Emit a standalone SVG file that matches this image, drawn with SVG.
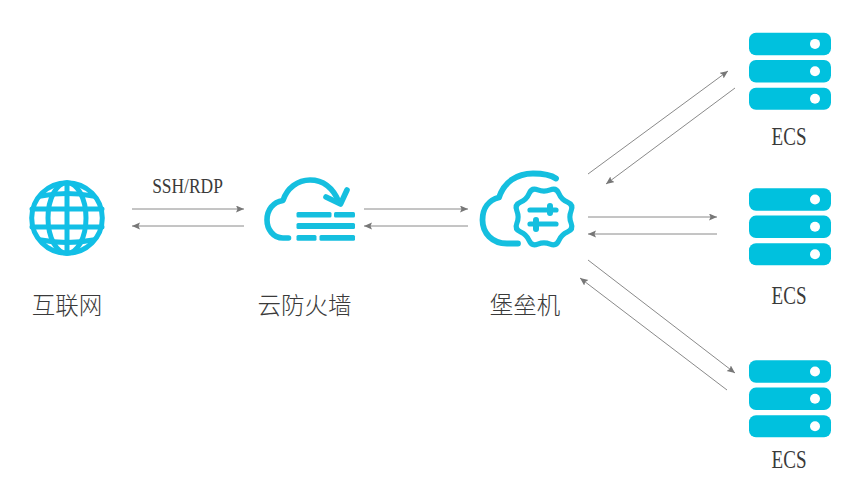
<svg xmlns="http://www.w3.org/2000/svg" width="854" height="480" viewBox="0 0 854 480">
<style>
.ic{fill:none;stroke:#15bfdf;stroke-linecap:round;stroke-linejoin:round}
.b{fill:#15bfdf}
.srv{fill:#00c1de}
.dot{fill:#fff}
.cn{font-family:"Noto Sans CJK SC","Noto Sans CJK JP",sans-serif;font-size:23.5px;font-weight:300;fill:#3a3a3a;text-anchor:middle}
.en{font-family:"Liberation Serif",serif;fill:#3a3a3a;text-anchor:middle}
.ecs{font-size:25px}
.ln{stroke:#8a8a8a;stroke-width:1;fill:none;marker-end:url(#a)}
</style>
<defs>
<marker id="a" markerUnits="userSpaceOnUse" markerWidth="9" markerHeight="8" refX="8" refY="3.5" orient="auto"><path d="M0 0L8 3.5L0 7L1.5 3.5Z" fill="#777"/></marker>
<g id="server">
<rect class="srv" x="0" y="0" width="82" height="22.500" rx="7"/>
<rect class="srv" x="0" y="27.300" width="82" height="22.500" rx="7"/>
<rect class="srv" x="0" y="55" width="82" height="22" rx="7"/>
<circle class="dot" cx="66" cy="11.200" r="5"/>
<circle class="dot" cx="66" cy="38.500" r="5"/>
<circle class="dot" cx="66" cy="66" r="5"/>
</g>
</defs>
<g id="connectors">
<path class="ln" d="M132 209H244"/>
<path class="ln" d="M244 226H132"/>
<path class="ln" d="M364 209H468"/>
<path class="ln" d="M468 226H364"/>
<path class="ln" d="M588 174L728 71"/>
<path class="ln" d="M735 88L606 184"/>
<path class="ln" d="M588 217H717"/>
<path class="ln" d="M717 234H588"/>
<path class="ln" d="M588 260L735 373"/>
<path class="ln" d="M727 390L580 278"/>
</g>
<text class="en" transform="translate(187.500 193) scale(.83 1)" font-size="21">SSH/RDP</text>
<g id="internet">
<g class="ic" stroke-width="5" style="stroke:#12bfe6">
<circle cx="67" cy="218" r="35.300"/>
<ellipse cx="67" cy="218" rx="19" ry="35.300"/>
<path d="M67 183V253M32 209H102M32 227H102"/>
<path d="M41 196Q67 191 93 196M41 240Q67 245 93 240"/>
</g>
<text class="cn" x="67" y="314">互联网</text>
</g>
<g id="firewall">
<path class="ic" stroke-width="5.600" d="M288.500 238H283C273 238 267 229 267 220C267 210 273 202 283 200.500C287 188 298 180 310 180C323 180 333 188 339 202"/>
<path class="ic" stroke-width="5.600" d="M326 197L340.500 204L347 190"/>
<rect class="b" x="296.500" y="212" width="35" height="5.500" rx="1.500"/>
<rect class="b" x="334" y="212" width="21" height="5.500" rx="1.500"/>
<rect class="b" x="296.500" y="223" width="58.500" height="6" rx="1.500"/>
<rect class="b" x="296.500" y="235" width="20" height="5.800" rx="1.500"/>
<rect class="b" x="319.500" y="235" width="35.500" height="5.800" rx="1.500"/>
<text class="cn" x="304.500" y="314">云防火墙</text>
</g>
<g id="bastion">
<path class="ic" stroke-width="5.800" d="M518 243.500H507C492 243.500 482.500 233 482.500 220C482.500 208 489 200 499 197.500C504 182 517 173.500 533 173.500C543 173.500 551 175 556 178.500"/>
<path class="ic" stroke-width="4.800" transform="translate(544 217) scale(1.07) translate(-544 -217)" d="M569.350 211.250Q567 217 569.350 222.750Q571.700 228.500 566 230.900Q560.300 233.300 557.900 239Q555.500 244.700 549.750 242.350Q544 240 538.250 242.350Q532.500 244.700 530.100 239Q527.700 233.300 522 230.900Q516.300 228.500 518.650 222.750Q521 217 518.650 211.250Q516.300 205.500 522 203.100Q527.700 200.700 530.100 195Q532.500 189.300 538.250 191.650Q544 194 549.750 191.650Q555.500 189.300 557.900 195Q560.300 200.700 566 203.100Q571.700 205.500 569.350 211.250Z"/>
<path class="ic" stroke-width="5.200" d="M530 210H556M530 224H556"/>
<path class="ic" stroke-width="6" d="M550 206V213M536 220V229"/>
<text class="cn" x="525" y="314">堡垒机</text>
</g>
<g id="ecs1"><use href="#server" x="749" y="32.700"/><text class="en ecs" transform="translate(789 145) scale(.763 1)">ECS</text></g>
<g id="ecs2"><use href="#server" x="749" y="188.300"/><text class="en ecs" transform="translate(789 303.500) scale(.763 1)">ECS</text></g>
<g id="ecs3"><use href="#server" x="749" y="360.300"/><text class="en ecs" transform="translate(789 468) scale(.763 1)">ECS</text></g>
</svg>
